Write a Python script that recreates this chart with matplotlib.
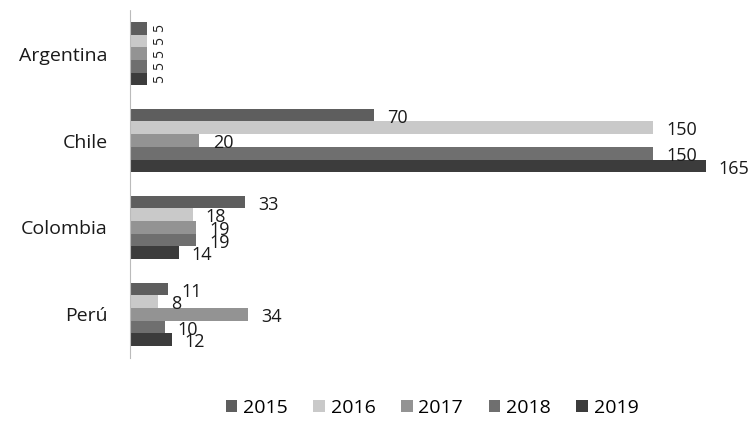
import matplotlib
matplotlib.use("Agg")
import matplotlib.pyplot as plt
from matplotlib.patches import Patch

categories = ["Argentina", "Chile", "Colombia", "Perú"]
years = ["2015", "2016", "2017", "2018", "2019"]
v2015 = [5, 70, 33, 11]
v2016 = [5, 150, 18, 8]
v2017 = [5, 20, 19, 34]
v2018 = [5, 150, 19, 10]
v2019 = [5, 165, 14, 12]
series = [v2015, v2016, v2017, v2018, v2019]
colors = ["#5e5e5e", "#c9c9c9", "#939393", "#6f6f6f", "#3c3c3c"]

plt.rcParams['font.family'] = ['Open Sans', 'DejaVu Sans']

fig = plt.figure(figsize=(7.54, 4.21), dpi=100)
ax = fig.add_axes([0.172, 0.150, 0.787, 0.826])

h = 0.146
for j, (vals, c) in enumerate(zip(series, colors)):
    ys = [i + (j - 2) * h for i in range(len(categories))]
    ax.barh(ys, vals, height=h, color=c, edgecolor='none')
    for y, v, cat in zip(ys, vals, categories):
        if cat == "Argentina":
            ax.text(v + 1.5, y, str(v), rotation=90, ha='left', va='center',
                    fontsize=10, color='#222222')
        else:
            ax.text(v + 3.8, y + 0.03, str(v), ha='left', va='center',
                    fontsize=13, color='#1a1a1a')

ax.set_xlim(0, 170)
ax.set_ylim(3.5, -0.5)
ax.set_yticks(range(len(categories)))
ax.set_yticklabels(categories, fontsize=14, color='#1a1a1a')
ax.tick_params(axis='y', length=0, pad=16)
ax.set_xticks([])
for s in ['top', 'right', 'bottom']:
    ax.spines[s].set_visible(False)
ax.spines['left'].set_color('#bbbbbb')
ax.spines['left'].set_linestyle((0, (1, 1)))

handles = [Patch(facecolor=c, edgecolor='none', label=y) for y, c in zip(years, colors)]
fig.legend(handles=handles, loc='center', bbox_to_anchor=(0.573, 0.031), ncol=5,
           frameon=False, fontsize=14, handlelength=0.6, handleheight=0.6,
           handletextpad=0.3, columnspacing=1.3)

fig.savefig("out.png", dpi=100)
